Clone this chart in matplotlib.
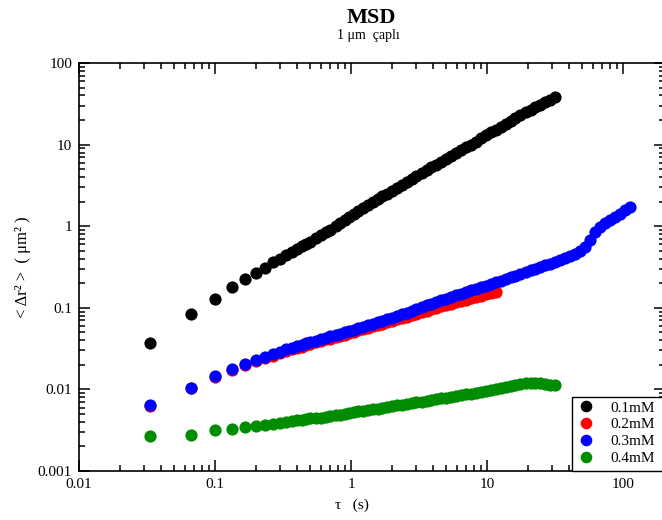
import matplotlib
matplotlib.use("Agg")
import matplotlib.pyplot as plt
from matplotlib.patches import Rectangle
from matplotlib.ticker import FuncFormatter, LogLocator, NullFormatter

# lag times (s)
tau = [0.0333, 0.0667, 0.1, 0.133, 0.167, 0.2, 0.233, 0.267, 0.3, 0.333, 0.367, 0.4,
       0.433, 0.467, 0.5, 0.55, 0.6, 0.65, 0.7, 0.77, 0.83, 0.9, 0.97,
       1.05, 1.13, 1.23, 1.33, 1.45, 1.57, 1.7, 1.85,
       2.0, 2.17, 2.37, 2.57, 2.8, 3.03, 3.3, 3.6, 3.9, 4.23, 4.6,
       5.0, 5.43, 5.9, 6.43, 7.0, 7.6, 8.27, 9.0, 9.8, 10.7, 11.6,
       12.6, 13.7, 14.9, 16.2, 17.6, 19.2, 20.9, 22.7, 24.7, 26.9, 29.2, 31.8,
       34.6, 37.6, 40.9, 44.5, 48.4, 52.6, 57.2, 62.2, 67.7, 73.6, 80.1, 87.1,
       94.7, 103, 112]

# MSD (um^2) for each concentration
msd_01 = [0.037, 0.085, 0.13, 0.18, 0.225, 0.265, 0.31, 0.36, 0.40, 0.44, 0.48, 0.53,
          0.57, 0.61, 0.64, 0.71, 0.78, 0.85, 0.91, 1.01, 1.10, 1.20, 1.30,
          1.42, 1.55, 1.69, 1.84, 2.0, 2.16, 2.33, 2.51,
          2.68, 2.92, 3.18, 3.45, 3.8, 4.1, 4.45, 4.85, 5.25, 5.65, 6.15,
          6.7, 7.25, 7.85, 8.5, 9.25, 10.0, 10.9, 11.9, 13.0, 14.1, 15.3,
          16.6, 18.0, 19.5, 21.2, 23.0, 24.9, 26.8, 28.7, 30.8, 33.0, 35.3, 38.0]

msd_02 = [0.0062, 0.0105, 0.0143, 0.0175, 0.020, 0.0222, 0.024, 0.026, 0.028, 0.0295, 0.031, 0.0322,
          0.0335, 0.0347, 0.036, 0.0377, 0.0393, 0.041, 0.042, 0.044, 0.0455, 0.047, 0.049,
          0.051, 0.053, 0.055, 0.057, 0.0595, 0.0615, 0.064, 0.067,
          0.0695, 0.0725, 0.0755, 0.078, 0.0815, 0.085, 0.089, 0.0925, 0.096, 0.0995, 0.104,
          0.108, 0.1125, 0.117, 0.1215, 0.126, 0.131, 0.136, 0.141, 0.146, 0.151, 0.157]

msd_03 = [0.0065, 0.0105, 0.0145, 0.018, 0.0205, 0.023, 0.025, 0.027, 0.029, 0.031, 0.0325, 0.034,
          0.0355, 0.0368, 0.038, 0.0397, 0.0413, 0.043, 0.0445, 0.0465, 0.0483, 0.050, 0.052,
          0.054, 0.056, 0.0585, 0.061, 0.064, 0.0665, 0.069, 0.0725,
          0.076, 0.079, 0.083, 0.087, 0.092, 0.097, 0.102, 0.107, 0.112, 0.118, 0.124,
          0.130, 0.136, 0.142, 0.149, 0.156, 0.163, 0.171, 0.179, 0.187, 0.196, 0.205,
          0.215, 0.225, 0.236, 0.248, 0.260, 0.273, 0.287, 0.301, 0.316, 0.332, 0.349, 0.367,
          0.386, 0.406, 0.43, 0.46, 0.50, 0.56, 0.68, 0.86, 0.99, 1.09, 1.19, 1.30,
          1.42, 1.56, 1.70]

msd_04 = [0.0027, 0.0028, 0.0032, 0.0033, 0.0035, 0.0036, 0.0037, 0.0038, 0.0039, 0.0040, 0.0041, 0.0042,
          0.0042, 0.0043, 0.0044, 0.0045, 0.0045, 0.0046, 0.0047, 0.0048, 0.0049, 0.0050, 0.0051,
          0.0053, 0.0054, 0.0055, 0.0056, 0.0057, 0.0058, 0.0060, 0.0061,
          0.0062, 0.0064, 0.0065, 0.0067, 0.0068, 0.0070, 0.0071, 0.0073, 0.0074, 0.0076, 0.0078,
          0.0079, 0.0081, 0.0083, 0.0085, 0.0087, 0.0089, 0.0091, 0.0093, 0.0096, 0.0098, 0.0100,
          0.0103, 0.0106, 0.0109, 0.0112, 0.0116, 0.0119, 0.0121, 0.0121, 0.0119, 0.0116, 0.0114, 0.0113]

labels = ['0.1mM', '0.2mM', '0.3mM', '0.4mM']
colors = ['#000000', '#ff0000', '#0000ff', '#008c00']
series = [msd_01, msd_02, msd_03, msd_04]

plt.rcParams['font.family'] = ['Liberation Serif', 'DejaVu Serif']

W, H = 662, 520
fig = plt.figure(figsize=(W / 100, H / 100), dpi=100)
# axes box in pixels: left 79, right 665 (just off canvas), top 63, bottom 471
ax = fig.add_axes([79 / W, (H - 471) / H, 586 / W, 408 / H])

for vals, col, lab in zip(series, colors, labels):
    ax.plot(tau[:len(vals)], vals, 'o', color=col, ms=8.8, mew=0, label=lab)

ax.set_xscale('log')
ax.set_yscale('log')
ax.set_xlim(0.01, 10 ** (-2 + 586 / 136))
ax.set_ylim(0.001, 100)

fmt = FuncFormatter(lambda v, p: '%g' % v)
for axis in (ax.xaxis, ax.yaxis):
    axis.set_major_locator(LogLocator(base=10, numticks=10))
    axis.set_minor_locator(LogLocator(base=10, subs=range(2, 10), numticks=20))
    axis.set_major_formatter(fmt)
    axis.set_minor_formatter(NullFormatter())

ax.tick_params(which='both', direction='in', top=True, right=True,
               labelsize=11, width=1.1, pad=5)
ax.tick_params(which='major', length=8)
ax.tick_params(which='minor', length=4.5)
for s in ax.spines.values():
    s.set_linewidth(1.2)

ax.set_ylabel('< \u0394r\u00b2 >  ( \u03bcm\u00b2 )', fontsize=12, labelpad=5)
fig.text(352 / W, 1 - 505 / H, '\u03c4   (s)', ha='center', va='center', fontsize=11)

fig.text(371 / W, 1 - 18 / H, 'MSD', ha='center', va='center',
         fontsize=16, fontweight='bold')
fig.text(368 / W, 1 - 35 / H, '1 \u03bcm  \u00e7apl\u0131', ha='center', va='center',
         fontsize=10)

# legend box runs past the right edge, as in the reference
fig.add_artist(Rectangle((572 / W, (H - 471) / H), 100 / W, 74 / H,
                         transform=fig.transFigure, facecolor='white',
                         edgecolor='black', linewidth=1.0, zorder=5))
leg = fig.legend(loc='upper left', bbox_to_anchor=(575 / W, 1 - 398 / H),
                 borderaxespad=0, fontsize=11, frameon=False,
                 handlelength=1.0, handletextpad=1.1, labelspacing=0.2,
                 borderpad=0.2, numpoints=1, markerscale=0.95)
leg.set_zorder(6)

fig.savefig('out.png', dpi=100)
